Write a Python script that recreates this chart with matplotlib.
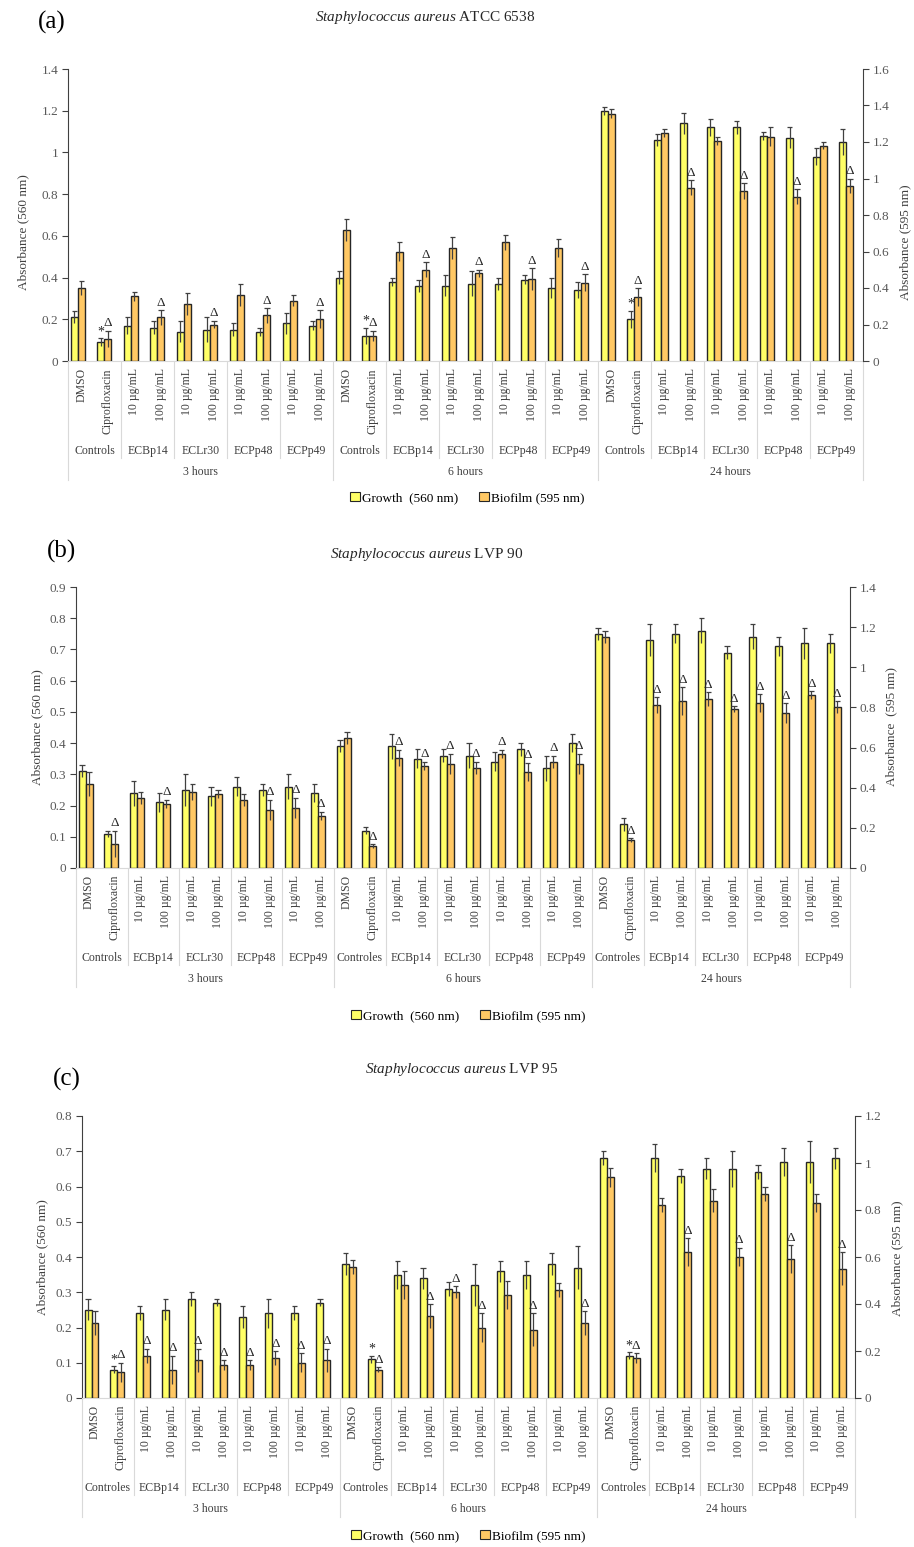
import numpy as np
import matplotlib.pyplot as plt
from matplotlib.patches import Patch
from matplotlib.ticker import FuncFormatter
from matplotlib.transforms import blended_transform_factory

plt.rcParams['font.family'] = ['Liberation Serif', 'DejaVu Serif']
plt.rcParams['mathtext.fontset'] = 'custom'
plt.rcParams['mathtext.rm'] = 'Liberation Serif'
plt.rcParams['mathtext.it'] = 'Liberation Serif:italic'

W, H = 914, 1547

# category rows (same for every panel)
conc = ['DMSO', 'Ciprofloxacin'] + ['10 µg/mL', '100 µg/mL'] * 4
extracts = ['ECBp14', 'ECLr30', 'ECPp48', 'ECPp49']
times = ['3 hours', '6 hours', '24 hours']

# (a) S. aureus ATCC 6538
growth_a = [0.21, 0.09, 0.17, 0.16, 0.14, 0.15, 0.15, 0.14, 0.18, 0.17,
            0.40, 0.12, 0.38, 0.36, 0.36, 0.37, 0.37, 0.39, 0.35, 0.34,
            1.20, 0.20, 1.06, 1.14, 1.12, 1.12, 1.08, 1.07, 0.98, 1.05]
growth_a_sd = [0.03, 0.02, 0.04, 0.03, 0.05, 0.06, 0.03, 0.02, 0.05, 0.02,
               0.03, 0.04, 0.02, 0.03, 0.05, 0.06, 0.03, 0.02, 0.05, 0.04,
               0.02, 0.04, 0.03, 0.05, 0.04, 0.03, 0.02, 0.05, 0.04, 0.06]
biofilm_a = [0.40, 0.12, 0.355, 0.24, 0.31, 0.20, 0.36, 0.25, 0.33, 0.23,
             0.72, 0.137, 0.60, 0.50, 0.62, 0.48, 0.65, 0.45, 0.62, 0.43,
             1.355, 0.35, 1.25, 0.95, 1.205, 0.93, 1.23, 0.90, 1.18, 0.96]
biofilm_a_sd = [0.04, 0.045, 0.025, 0.04, 0.06, 0.02, 0.06, 0.04, 0.03, 0.05,
                0.06, 0.03, 0.05, 0.04, 0.06, 0.02, 0.04, 0.06, 0.05, 0.045,
                0.025, 0.05, 0.02, 0.04, 0.02, 0.045, 0.05, 0.04, 0.02, 0.04]
star_a = [1, 11, 21]
delta_a = [1, 3, 5, 7, 9, 11, 13, 15, 17, 19, 21, 23, 25, 27, 29]

# (b) S. aureus LVP 90
growth_b = [0.31, 0.11, 0.24, 0.21, 0.25, 0.23, 0.26, 0.25, 0.26, 0.24,
            0.39, 0.12, 0.39, 0.35, 0.36, 0.36, 0.34, 0.38, 0.32, 0.40,
            0.75, 0.14, 0.73, 0.75, 0.76, 0.69, 0.74, 0.71, 0.72, 0.72]
growth_b_sd = [0.02, 0.01, 0.04, 0.03, 0.05, 0.03, 0.03, 0.02, 0.04, 0.03,
               0.02, 0.01, 0.04, 0.03, 0.02, 0.04, 0.03, 0.02, 0.04, 0.03,
               0.02, 0.02, 0.05, 0.03, 0.04, 0.02, 0.04, 0.03, 0.05, 0.03]
biofilm_b = [0.42, 0.12, 0.35, 0.32, 0.38, 0.37, 0.34, 0.29, 0.30, 0.26,
             0.65, 0.11, 0.55, 0.51, 0.52, 0.50, 0.57, 0.48, 0.53, 0.52,
             1.15, 0.14, 0.81, 0.83, 0.84, 0.79, 0.82, 0.77, 0.86, 0.80]
biofilm_b_sd = [0.06, 0.065, 0.03, 0.02, 0.04, 0.02, 0.03, 0.05, 0.05, 0.02,
                0.03, 0.01, 0.04, 0.02, 0.05, 0.03, 0.02, 0.045, 0.03, 0.05,
                0.03, 0.01, 0.04, 0.07, 0.035, 0.015, 0.045, 0.05, 0.02, 0.03]
star_b = []
delta_b = [1, 3, 7, 8, 9, 11, 12, 13, 14, 15, 16, 17, 18, 19,
           21, 22, 23, 24, 25, 26, 27, 28, 29]

# (c) S. aureus LVP 95
growth_c = [0.25, 0.08, 0.24, 0.25, 0.28, 0.27, 0.23, 0.24, 0.24, 0.27,
            0.38, 0.11, 0.35, 0.34, 0.31, 0.32, 0.36, 0.35, 0.38, 0.37,
            0.68, 0.12, 0.68, 0.63, 0.65, 0.65, 0.64, 0.67, 0.67, 0.68]
growth_c_sd = [0.03, 0.01, 0.02, 0.03, 0.02, 0.01, 0.03, 0.04, 0.02, 0.01,
               0.03, 0.01, 0.04, 0.03, 0.02, 0.06, 0.03, 0.04, 0.03, 0.06,
               0.02, 0.01, 0.04, 0.02, 0.03, 0.05, 0.02, 0.04, 0.06, 0.03]
biofilm_c = [0.32, 0.11, 0.18, 0.12, 0.16, 0.14, 0.14, 0.17, 0.15, 0.16,
             0.557, 0.12, 0.48, 0.35, 0.45, 0.30, 0.44, 0.29, 0.46, 0.32,
             0.94, 0.17, 0.82, 0.62, 0.84, 0.60, 0.87, 0.59, 0.83, 0.55]
biofilm_c_sd = [0.05, 0.04, 0.03, 0.06, 0.05, 0.02, 0.02, 0.03, 0.04, 0.05,
                0.03, 0.01, 0.06, 0.05, 0.025, 0.06, 0.06, 0.07, 0.03, 0.05,
                0.04, 0.02, 0.03, 0.06, 0.05, 0.04, 0.03, 0.06, 0.04, 0.07]
star_c = [1, 11, 21]
delta_c = [1, 2, 3, 4, 5, 6, 7, 8, 9, 11, 13, 14, 15, 17, 19, 21, 23, 25, 27, 29]

YEL = '#FFFF66'
ORA = '#FFC864'
EDGE = '#262626'
ERR = '#404040'
GRID = '#D9D9D9'
TXT = '#404040'
TICK = '#595959'

fig = plt.figure(figsize=(W / 100, H / 100), dpi=100)


def fx(px):
    return px / W


def fy(py):
    return 1 - py / H


def trim(v, pos):
    return f'{v:.1f}'.rstrip('0').rstrip('.')


def draw_panel(tag, strain, growth, gsd, biofilm, bsd, stars, deltas,
               box, lmax, lstep, rmax, ctrl, tag_xy, title_xy,
               ylab_l, ylab_r, leg_xy, right_label):
    l, t, r, b = box
    ax = fig.add_axes([fx(l), fy(b), fx(r - l), (b - t) / H])
    ax2 = ax.twinx()
    growth, gsd = np.array(growth), np.array(gsd)
    biofilm, bsd = np.array(biofilm), np.array(bsd)
    x = np.arange(len(growth))
    xg, xb, bw = x - 0.265, x + 0.005, 0.27

    ax.bar(xg, growth, bw, color=YEL, edgecolor=EDGE, lw=1.0, zorder=2)
    ax.vlines(xg, growth - gsd, growth + gsd, color=ERR, lw=0.9, zorder=3)
    ax.hlines(growth + gsd, xg - 0.1, xg + 0.1, color=ERR, lw=0.9, zorder=3)
    ax2.bar(xb, biofilm, bw, color=ORA, edgecolor=EDGE, lw=1.0, zorder=2)
    ax2.vlines(xb, biofilm - bsd, biofilm + bsd, color=ERR, lw=0.9, zorder=3)
    ax2.hlines(biofilm + bsd, xb - 0.1, xb + 0.1, color=ERR, lw=0.9, zorder=3)

    for i in stars:
        ax.annotate('*', xy=(xg[i], growth[i] + gsd[i]), xytext=(0, 0),
                    textcoords='offset points', ha='center', va='bottom',
                    fontsize=10, color='#262626')
    for i in deltas:
        ax2.annotate('Δ', xy=(xb[i], biofilm[i] + bsd[i]), xytext=(0, 1),
                     textcoords='offset points', ha='center', va='bottom',
                     fontsize=9.5, color='#262626')

    ax.set_xlim(-0.5, 29.5)
    ax.set_xticks([])
    ax.set_ylim(0, lmax)
    ax.set_yticks(np.arange(0, lmax + 1e-9, lstep))
    ax2.set_ylim(0, rmax)
    ax2.set_yticks(np.arange(0, rmax + 1e-9, 0.2))
    for a in (ax, ax2):
        a.yaxis.set_major_formatter(FuncFormatter(trim))
        a.tick_params(axis='y', length=4, width=0.8, color=ERR,
                      labelcolor=TICK, labelsize=9.5, pad=3)
        a.spines['top'].set_visible(False)
    ax.spines['right'].set_visible(False)
    ax.spines['left'].set_color(ERR)
    ax.spines['bottom'].set_color(GRID)
    ax2.spines['left'].set_visible(False)
    ax2.spines['bottom'].set_visible(False)
    ax2.spines['right'].set_color(ERR)

    # multi-level category axis below the bars
    trans = blended_transform_factory(ax.transData, ax.transAxes)
    h_px = b - t
    for i, lab in enumerate(conc * 3):
        ax.annotate(lab, xy=(i, 0), xycoords=trans, xytext=(0, -7 * 0.72),
                    textcoords='offset points', rotation=90, ha='center',
                    va='top', fontsize=8.5, color=TXT)
    for k in range(3):
        groups = [ctrl[k]] + extracts
        for j, g in enumerate(groups):
            ax.annotate(g, xy=(k * 10 + 0.5 + 2 * j, 0), xycoords=trans,
                        xytext=(0, -90 * 0.72), textcoords='offset points',
                        ha='center', va='center', fontsize=8.5, color=TXT)
        for xs in (1.5, 3.5, 5.5, 7.5):
            ax.plot([k * 10 + xs] * 2, [0, -97 / h_px], transform=trans,
                    clip_on=False, color=GRID, lw=0.8)
        ax.annotate(times[k], xy=(k * 10 + 4.5, 0), xycoords=trans,
                    xytext=(0, -111 * 0.72), textcoords='offset points',
                    ha='center', va='center', fontsize=8.5, color=TXT)
    for xs in (-0.5, 9.5, 19.5, 29.5):
        ax.plot([xs, xs], [0, -119 / h_px], transform=trans, clip_on=False,
                color=GRID, lw=0.8)

    fig.text(fx(tag_xy[0]), fy(tag_xy[1]), tag, fontsize=18,
             ha='center', va='center')
    fig.text(fx(title_xy[0]), fy(title_xy[1]),
             r'$\mathit{Staphylococcus\ aureus}$ ' + strain, fontsize=11,
             ha='center', va='center', color='#262626')
    fig.text(fx(ylab_l[0]), fy(ylab_l[1]), 'Absorbance (560 nm)', rotation=90,
             fontsize=9.5, ha='center', va='center', color=TXT)
    fig.text(fx(ylab_r[0]), fy(ylab_r[1]), right_label, rotation=90,
             fontsize=9.5, ha='center', va='center', color=TXT)

    handles = [Patch(facecolor=YEL, edgecolor=EDGE, lw=0.8),
               Patch(facecolor=ORA, edgecolor=EDGE, lw=0.8)]
    fig.legend(handles, ['Growth  (560 nm)', 'Biofilm (595 nm)'],
               loc='center', bbox_to_anchor=(fx(leg_xy[0]), fy(leg_xy[1])),
               ncol=2, frameon=False, fontsize=9.5, handlelength=0.75,
               handleheight=0.75, handletextpad=0.15, columnspacing=1.6,
               borderpad=0, borderaxespad=0)


draw_panel('(a)', 'ATCC 6538', growth_a, growth_a_sd, biofilm_a, biofilm_a_sd,
           star_a, delta_a, (68, 69, 863, 361), 1.4, 0.2, 1.6,
           ['Controls'] * 3, (52, 22), (425, 18), (23, 232), (905, 242),
           (467, 498), 'Absorbance (595 nm)')
draw_panel('(b)', 'LVP 90', growth_b, growth_b_sd, biofilm_b, biofilm_b_sd,
           star_b, delta_b, (76, 587, 850, 868), 0.9, 0.1, 1.4,
           ['Controls', 'Controles', 'Controles'], (61, 551), (427, 554),
           (37, 727), (891, 727), (468, 1016), 'Absorbance  (595 nm)')
draw_panel('(c)', 'LVP 95', growth_c, growth_c_sd, biofilm_c, biofilm_c_sd,
           star_c, delta_c, (82, 1116, 855, 1398), 0.8, 0.1, 1.2,
           ['Controles'] * 3, (67, 1079), (462, 1070), (42, 1257), (897, 1258),
           (468, 1536), 'Absorbance (595 nm)')

fig.savefig('out.png', dpi=100)
